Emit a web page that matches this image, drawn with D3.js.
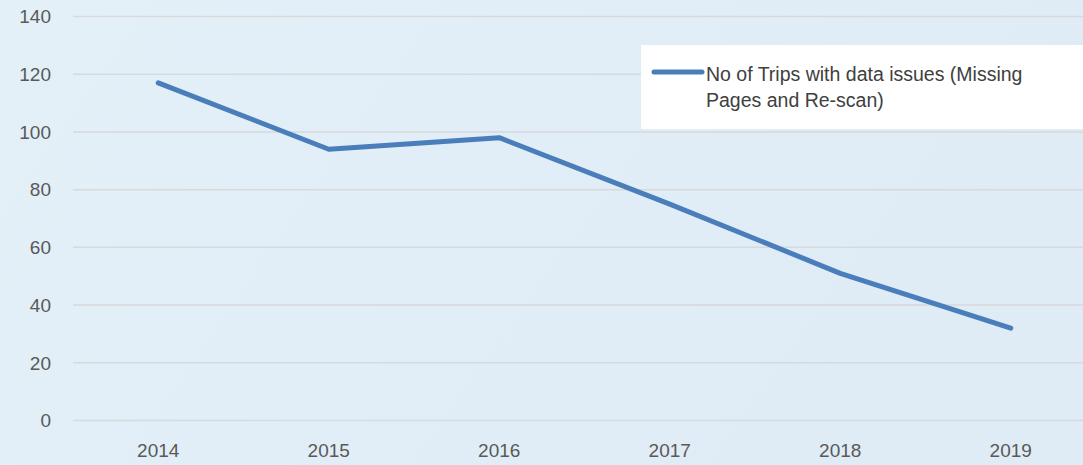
<!DOCTYPE html>
<html>
<head>
<meta charset="utf-8">
<script src="https://cdn.jsdelivr.net/npm/d3@7"></script>
<style>
  html, body { margin: 0; padding: 0; overflow: hidden; }
  body { width: 1083px; height: 465px; }
  text { font-family: "Liberation Sans", "DejaVu Sans", sans-serif; }
</style>
</head>
<body>
<div id="chart"></div>
<script>
// chart data
const years = ["2014", "2015", "2016", "2017", "2018", "2019"];
const tripsWithIssues = [117, 94, 98, 75, 51, 32];
const yTicks = [0, 20, 40, 60, 80, 100, 120, 140];
const seriesName = ["No of Trips with data issues (Missing", "Pages and Re-scan)"];

const width = 1083, height = 465;
const margin = {top: 16.5, left: 73, bottom: 44.5};

const svg = d3.select("#chart").append("svg")
    .attr("width", width)
    .attr("height", height);

// background, light blue like the slide
const defs = svg.append("defs");
const grad = defs.append("linearGradient")
    .attr("id", "bg")
    .attr("x1", "0").attr("y1", "0").attr("x2", "1").attr("y2", "0.3");
grad.append("stop").attr("offset", "0").attr("stop-color", "#e4f0f8");
grad.append("stop").attr("offset", "0.5").attr("stop-color", "#e1eef7");
grad.append("stop").attr("offset", "1").attr("stop-color", "#dfebf5");
svg.append("rect")
    .attr("width", width).attr("height", height)
    .attr("fill", "url(#bg)");

const x = d3.scaleBand()
    .domain(years)
    .range([margin.left, 1096])
    .padding(0);

const y = d3.scaleLinear()
    .domain([0, 140])
    .range([height - margin.bottom, margin.top]);

// gridlines
svg.append("g")
    .selectAll("line")
    .data(yTicks)
    .join("line")
    .attr("x1", margin.left)
    .attr("x2", width)
    .attr("y1", d => y(d))
    .attr("y2", d => y(d))
    .attr("stroke", "#d7d9db")
    .attr("stroke-width", 1.5);

// y axis labels
svg.append("g")
    .selectAll("text")
    .data(yTicks)
    .join("text")
    .attr("x", 51)
    .attr("y", d => y(d))
    .attr("dy", "0.36em")
    .attr("text-anchor", "end")
    .attr("font-size", 19)
    .attr("fill", "#595959")
    .text(d => d);

// x axis labels
svg.append("g")
    .selectAll("text")
    .data(years)
    .join("text")
    .attr("x", d => x(d) + x.bandwidth() / 2)
    .attr("y", 457)
    .attr("text-anchor", "middle")
    .attr("font-size", 19)
    .attr("fill", "#595959")
    .text(d => d);

// the line
const line = d3.line()
    .x((d, i) => x(years[i]) + x.bandwidth() / 2)
    .y(d => y(d));

svg.append("path")
    .datum(tripsWithIssues)
    .attr("d", line)
    .attr("fill", "none")
    .attr("stroke", "#4a7ebb")
    .attr("stroke-width", 5)
    .attr("stroke-linecap", "round")
    .attr("stroke-linejoin", "round");

// legend
const legend = svg.append("g");
legend.append("rect")
    .attr("x", 641).attr("y", 45)
    .attr("width", 450).attr("height", 84)
    .attr("fill", "#ffffff");
legend.append("line")
    .attr("x1", 654).attr("x2", 702)
    .attr("y1", 72).attr("y2", 72)
    .attr("stroke", "#4a7ebb")
    .attr("stroke-width", 5)
    .attr("stroke-linecap", "round");
legend.append("text")
    .attr("x", 706)
    .attr("font-size", 19.5)
    .attr("fill", "#404040")
    .selectAll("tspan")
    .data(seriesName)
    .join("tspan")
    .attr("x", 706)
    .attr("y", (d, i) => 81 + i * 26)
    .text(d => d);
</script>
</body>
</html>
